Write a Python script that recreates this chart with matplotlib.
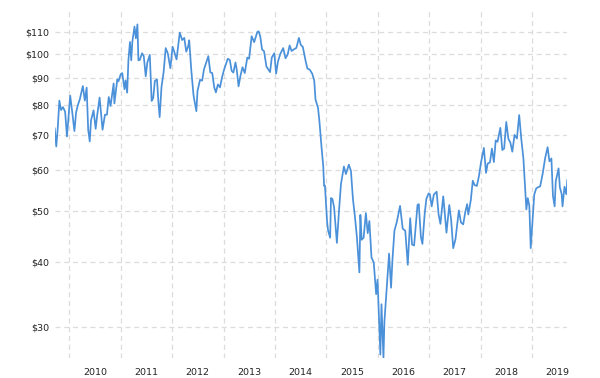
import numpy as np
import pandas as pd
import matplotlib
matplotlib.use('Agg')
import matplotlib.pyplot as plt
import matplotlib.dates as mdates
from matplotlib.ticker import FixedLocator, FuncFormatter, NullFormatter

# crude oil price (USD per barrel), sampled at turning points
dates = [
    '2009-09-18', '2009-09-29', '2009-10-09', '2009-10-21', '2009-11-02', '2009-11-16',
    '2009-12-01', '2009-12-14', '2009-12-31', '2010-01-06', '2010-01-20', '2010-02-05',
    '2010-02-17', '2010-03-01', '2010-03-16', '2010-04-06', '2010-04-20', '2010-05-03',
    '2010-05-14', '2010-05-25', '2010-06-03', '2010-06-21', '2010-07-06', '2010-07-16',
    '2010-08-03', '2010-08-24', '2010-09-10', '2010-09-24', '2010-10-07', '2010-10-20',
    '2010-11-03', '2010-11-11', '2010-11-16', '2010-12-07', '2010-12-15', '2010-12-31',
    '2011-01-11', '2011-01-27', '2011-02-04', '2011-02-15', '2011-02-24', '2011-03-07',
    '2011-03-16', '2011-03-24', '2011-04-08', '2011-04-18', '2011-04-29', '2011-05-06',
    '2011-05-16', '2011-06-01', '2011-06-13', '2011-06-27', '2011-07-08', '2011-07-26',
    '2011-08-08', '2011-08-19', '2011-08-31', '2011-09-15', '2011-09-26', '2011-10-04',
    '2011-10-17', '2011-11-01', '2011-11-16', '2011-12-01', '2011-12-19', '2012-01-04',
    '2012-01-17', '2012-02-01', '2012-02-24', '2012-03-12', '2012-03-27', '2012-04-10',
    '2012-04-24', '2012-05-01', '2012-05-16', '2012-06-01', '2012-06-21', '2012-06-29',
    '2012-07-17', '2012-08-01', '2012-08-14', '2012-09-14', '2012-09-28', '2012-10-12',
    '2012-10-26', '2012-11-07', '2012-11-21', '2012-12-06', '2012-12-20', '2013-01-03',
    '2013-01-17', '2013-01-30', '2013-02-14', '2013-02-27', '2013-03-11', '2013-03-26',
    '2013-04-04', '2013-04-17', '2013-05-01', '2013-05-15', '2013-05-31', '2013-06-18',
    '2013-07-01', '2013-07-19', '2013-08-06', '2013-08-28', '2013-09-06', '2013-09-18',
    '2013-10-01', '2013-10-15', '2013-11-01', '2013-11-27', '2013-12-09', '2013-12-27',
    '2014-01-09', '2014-01-22', '2014-02-07', '2014-02-28', '2014-03-17', '2014-04-01',
    '2014-04-15', '2014-04-29', '2014-05-15', '2014-06-02', '2014-06-20', '2014-07-03',
    '2014-07-18', '2014-08-05', '2014-08-19', '2014-09-05', '2014-09-23', '2014-10-07',
    '2014-10-16', '2014-11-03', '2014-11-13', '2014-11-28', '2014-12-10', '2014-12-16',
    '2014-12-22', '2015-01-06', '2015-01-13', '2015-01-28', '2015-02-03', '2015-02-13',
    '2015-02-25', '2015-03-17', '2015-04-01', '2015-04-15', '2015-05-06', '2015-05-20',
    '2015-06-10', '2015-06-25', '2015-07-09', '2015-07-22', '2015-08-06', '2015-08-24',
    '2015-08-31', '2015-09-09', '2015-09-23', '2015-10-09', '2015-10-22', '2015-11-03',
    '2015-11-18', '2015-12-04', '2015-12-21', '2015-12-31', '2016-01-12', '2016-01-20',
    '2016-01-28', '2016-02-11', '2016-02-18', '2016-03-08', '2016-03-22', '2016-04-05',
    '2016-04-15', '2016-04-29', '2016-05-16', '2016-06-08', '2016-06-27', '2016-07-15',
    '2016-08-02', '2016-08-19', '2016-09-01', '2016-09-16', '2016-10-10', '2016-10-19',
    '2016-11-03', '2016-11-14', '2016-11-30', '2016-12-12', '2016-12-28', '2017-01-06',
    '2017-01-19', '2017-02-03', '2017-02-23', '2017-03-09', '2017-03-22', '2017-04-11',
    '2017-04-20', '2017-05-04', '2017-05-24', '2017-06-06', '2017-06-21', '2017-07-07',
    '2017-07-31', '2017-08-15', '2017-08-31', '2017-09-15', '2017-09-28', '2017-10-06',
    '2017-10-24', '2017-11-07', '2017-11-20', '2017-12-06', '2017-12-21', '2018-01-04',
    '2018-01-25', '2018-02-09', '2018-02-21', '2018-03-09', '2018-03-23', '2018-04-06',
    '2018-04-19', '2018-05-02', '2018-05-22', '2018-06-05', '2018-06-18', '2018-07-03',
    '2018-07-18', '2018-08-01', '2018-08-15', '2018-08-31', '2018-09-17', '2018-10-03',
    '2018-10-18', '2018-11-02', '2018-11-23', '2018-12-03', '2018-12-14', '2018-12-24',
    '2019-01-07', '2019-01-18', '2019-02-01', '2019-02-15', '2019-03-01', '2019-03-19',
    '2019-04-05', '2019-04-23', '2019-05-06', '2019-05-20', '2019-05-31', '2019-06-12',
    '2019-06-20', '2019-07-10', '2019-07-19', '2019-08-01', '2019-08-07', '2019-08-21',
    '2019-09-03', '2019-09-10',
]

prices = [
    72.0, 66.5, 71.8, 81.4, 78.1, 79.1,
    77.5, 69.5, 79.4, 83.2, 77.6, 71.2,
    77.3, 79.7, 82.0, 86.8, 81.4, 86.2,
    71.6, 68.0, 74.6, 78.0, 71.9, 76.0,
    82.5, 71.6, 76.5, 76.5, 82.7, 79.5,
    84.7, 87.8, 80.4, 89.4, 88.6, 91.4,
    91.9, 85.6, 89.0, 84.3, 97.3, 105.4,
    97.2, 105.6, 112.8, 107.1, 113.9, 97.2,
    97.4, 100.3, 99.0, 90.6, 96.2, 99.6,
    81.3, 82.3, 88.8, 89.4, 80.2, 75.7,
    86.4, 92.2, 102.6, 100.2, 93.9, 103.2,
    100.7, 97.6, 109.8, 106.3, 107.3, 101.0,
    103.5, 106.2, 93.0, 83.2, 77.7, 84.9,
    89.2, 88.9, 93.4, 99.0, 92.2, 91.9,
    86.3, 84.4, 87.4, 86.3, 90.1, 93.1,
    95.5, 97.9, 97.3, 92.8, 92.1, 96.3,
    93.3, 86.7, 91.0, 94.3, 91.9, 98.4,
    97.9, 108.1, 105.3, 110.1, 110.5, 108.1,
    102.0, 101.2, 94.6, 92.3, 98.4, 100.3,
    91.7, 96.7, 99.9, 102.6, 98.1, 99.7,
    103.8, 101.3, 102.0, 102.7, 107.3, 104.1,
    103.1, 97.4, 93.8, 93.3, 91.6, 88.9,
    81.8, 78.8, 74.2, 66.2, 61.0, 55.9,
    56.0, 47.9, 46.0, 44.5, 53.0, 52.8,
    50.9, 43.5, 50.1, 56.4, 60.9, 58.9,
    61.4, 59.7, 52.8, 49.2, 44.7, 38.2,
    49.2, 44.1, 44.5, 49.6, 45.4, 47.9,
    40.8, 39.9, 34.7, 37.0, 30.4, 26.6,
    33.2, 26.2, 30.8, 36.5, 41.5, 35.7,
    40.4, 45.9, 47.7, 51.2, 46.3, 45.9,
    39.5, 48.5, 43.2, 43.0, 51.4, 51.6,
    44.7, 43.3, 49.4, 52.8, 54.1, 53.9,
    51.1, 53.8, 54.5, 49.3, 47.3, 53.4,
    50.3, 45.5, 51.4, 48.2, 42.5, 44.2,
    50.2, 47.6, 47.2, 49.9, 51.6, 49.3,
    52.5, 57.2, 56.1, 55.9, 58.4, 61.9,
    66.1, 59.2, 61.7, 62.0, 65.9, 62.1,
    68.3, 67.9, 72.2, 65.5, 65.9, 74.1,
    68.8, 67.7, 65.0, 70.0, 68.9, 76.4,
    68.7, 63.1, 50.4, 53.0, 51.2, 42.5,
    48.5, 53.8, 55.3, 55.6, 55.8, 59.0,
    63.1, 66.3, 62.3, 63.1, 53.5, 51.1,
    57.1, 60.4, 55.6, 53.9, 51.1, 55.7,
    53.9, 57.4,
]

# y axis tick values
y_ticks = [30, 40, 50, 60, 70, 80, 90, 100, 110]

x = pd.to_datetime(dates)

fig = plt.figure(figsize=(6, 3.78), dpi=100)
ax = fig.add_axes([0.0912, 0.0529, 0.8543, 0.918])

ax.plot(x, prices, color='#4b91da', linewidth=1.25)

ax.set_yscale('log')
ax.set_ylim(26.2, 120.8)
ax.set_xlim(x[0], x[-1])

# price ticks
ax.yaxis.set_major_locator(FixedLocator(y_ticks))
ax.yaxis.set_major_formatter(FuncFormatter(lambda v, p: '$%d' % v))
ax.yaxis.set_minor_locator(FixedLocator([]))
ax.yaxis.set_minor_formatter(NullFormatter())

# gridlines at year starts, year labels in the middle of each year
ax.xaxis.set_major_locator(mdates.YearLocator())
ax.xaxis.set_major_formatter(NullFormatter())
ax.xaxis.set_minor_locator(mdates.MonthLocator(bymonth=7))
ax.xaxis.set_minor_formatter(mdates.DateFormatter('%Y'))

ax.grid(True, which='major', axis='both', color='#dcdcdc', linestyle=(0, (4, 3)), linewidth=0.9)
ax.set_axisbelow(True)

for s in ax.spines.values():
    s.set_visible(False)

ax.tick_params(axis='both', which='both', length=0, labelsize=6.8, labelcolor='#222222')
ax.tick_params(axis='y', pad=4)
ax.tick_params(axis='x', which='minor', pad=7)

fig.savefig('out.png', dpi=100)
